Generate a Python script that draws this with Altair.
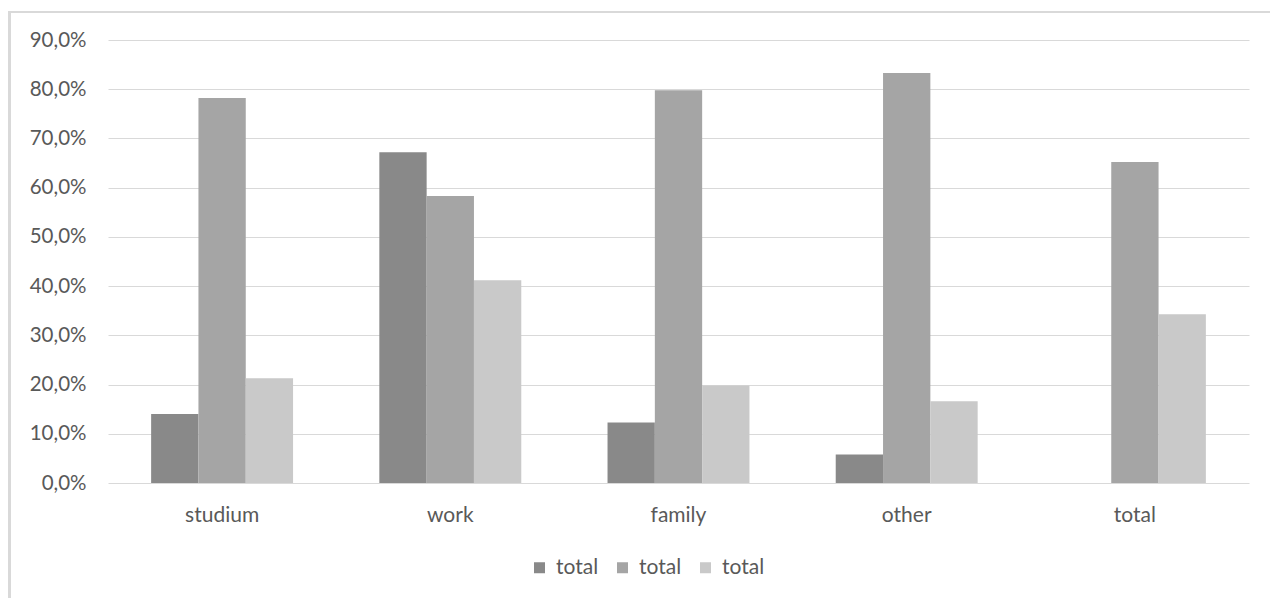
import altair as alt
import pandas as pd

categories = ["studium", "work", "family", "other", "total"]
series = ["s1", "s2", "s3"]
series_labels = ["total", "total", "total"]
values_s1 = [0.140, 0.672, 0.123, 0.058, 0.0]
values_s2 = [0.782, 0.583, 0.798, 0.833, 0.652]
values_s3 = [0.213, 0.412, 0.198, 0.166, 0.343]
colors = ["#898989", "#a5a5a5", "#c9c9c9"]

rows = []
for s, vals in zip(series, [values_s1, values_s2, values_s3]):
    for c, v in zip(categories, vals):
        rows.append({"category": c, "series": s, "value": v})
df = pd.DataFrame(rows)

FONT = "Lato"
TXT = "#595959"
GRID = "#d9d9d9"

bars = alt.Chart(df).mark_bar().encode(
    x=alt.X("category:N", sort=categories,
            scale=alt.Scale(paddingInner=0.378, paddingOuter=0.189),
            axis=alt.Axis(title=None, labelAngle=0, domain=False, ticks=False, grid=False,
                          labelPadding=21, labelFontSize=21, labelColor=TXT,
                          labelFont=FONT)),
    xOffset=alt.XOffset("series:N", sort=series, scale=alt.Scale(paddingInner=0, paddingOuter=0)),
    y=alt.Y("value:Q", scale=alt.Scale(domain=[0, 0.9], nice=False),
            axis=alt.Axis(title=None, values=[i / 10 for i in range(10)],
                          labelExpr="replace(format(datum.value, '.1%'), '.', ',')",
                          domain=False, ticks=False, labelPadding=22,
                          labelFontSize=20.5, labelColor=TXT, labelFont=FONT,
                          gridColor=GRID, gridWidth=1)),
    color=alt.Color("series:N", sort=series,
                    scale=alt.Scale(domain=series, range=colors),
                    legend=alt.Legend(title=None, orient="none", direction="horizontal",
                                      legendX=421, legendY=517,
                                      labelExpr="'total'", symbolType="square",
                                      symbolSize=121, symbolStrokeWidth=0,
                                      labelFontSize=21, labelColor=TXT, labelFont=FONT,
                                      labelOffset=6, columnPadding=13)),
)

frame_top = alt.Chart(df).mark_rule(color=GRID, strokeWidth=2).encode(
    x=alt.value(-99), x2=alt.value(1200), y=alt.value(-28))
frame_left = alt.Chart(df).mark_rule(color=GRID, strokeWidth=3).encode(
    x=alt.value(-98.5), y=alt.value(-29), y2=alt.value(600))

chart = alt.layer(frame_top, frame_left, bars).properties(
    width=1141, height=443,
    autosize=alt.AutoSizeParams(type="none"),
    padding={"left": 108, "top": 40, "right": 21, "bottom": 115},
    background="white",
).configure_view(stroke="transparent", strokeWidth=0)

chart.save("out.html", embed_options={"renderer": "svg", "actions": False})
